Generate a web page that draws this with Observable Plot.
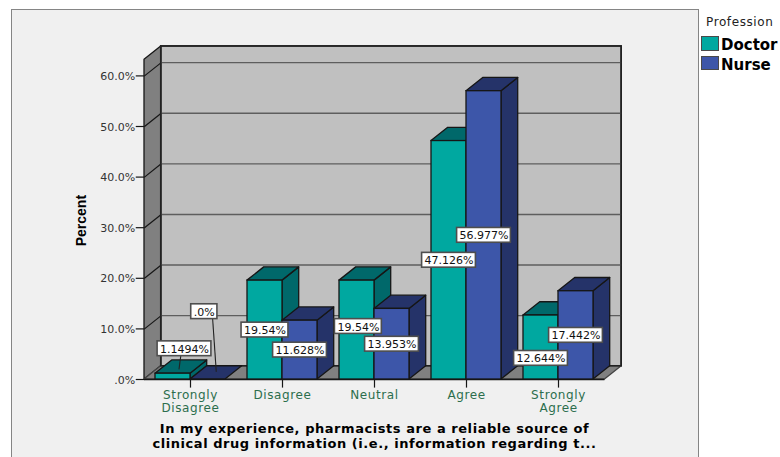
<!DOCTYPE html>
<html>
<head>
<meta charset="utf-8">
<script src="https://cdn.jsdelivr.net/npm/d3@7"></script>
<script src="https://cdn.jsdelivr.net/npm/@observablehq/plot@0.6"></script>
<style>
html,body{margin:0;padding:0;background:#fff;width:780px;height:457px;overflow:hidden}
#panel{position:absolute;left:11px;top:9px;width:686px;height:470px;background:#f0f0f0;border:1.5px solid #858585}
#chart{position:absolute;left:0;top:0}
#legend{position:absolute;left:0;top:0}
.t{position:absolute;white-space:nowrap}
.sw{position:absolute;left:701px;width:16px;height:12.5px;border:1px solid #4a4a4a}
</style>
</head>
<body>
<div id="panel"></div>
<div id="chart"></div>
<div id="legend"></div>
<script>
const categories = ["Strongly\nDisagree", "Disagree", "Neutral", "Agree", "Strongly\nAgree"];
const doctor = [1.1494, 19.54, 19.54, 47.126, 12.644];
const nurse = [0, 11.628, 13.953, 56.977, 17.442];
const doctorText = ["1.1494%", "19.54%", "19.54%", "47.126%", "12.644%"];
const nurseText = [".0%", "11.628%", "13.953%", "56.977%", "17.442%"];
const yTicks = [0, 10, 20, 30, 40, 50, 60];
const yTickText = [".0%", "10.0%", "20.0%", "30.0%", "40.0%", "50.0%", "60.0%"];
const seriesNames = ["Doctor", "Nurse"];
const legendTitle = "Profession";
const axisTitle = "Percent";
const chartTitle = "In my experience, pharmacists are a reliable source of\nclinical drug information (i.e., information regarding t...";

// Label displacement from bar mid-height / bar centre (collision avoidance in the original)
const doctorLabelLift = [5.5, 0, 0.7, 0, -2.15];
const nurseLabelLift = [13.4, 0, 0, 0, 0];
const doctorLabelShift = [0.125, 0, 0.015, 0, 0];
const nurseLabelShift = [-0.04, 0, 0, 0, 0];

// Projection and proportions in data units
const dx = 16.7 / 92, dy = 2.62;
const barW = 35 / 92;
const wallLeft = -0.5, wallRight = 4.505, wallTop = 63.2;
const pxX = 1 / 92, pxY = 1 / 5.06;
const font = "DejaVu Sans";
const wall = "#c0c0c0", sideGrey = "#808080", ink = "#161616";
const colors = {
  Doctor: {front: "#00a8a0", dark: "#00686a"},
  Nurse: {front: "#3d56a9", dark: "#253369"}
};

// wraps a mark so its text is tracked out like the wide original lettering
const tracked = (spacing) => (index, scales, values, dimensions, context, next) => {
  const g = next(index, scales, values, dimensions, context);
  g.setAttribute("letter-spacing", spacing);
  return g;
};

const sideFace = (x0, y0, y1, fill, stroke = ink) =>
  Plot.areaY([{x: x0, a: y0, b: y1}, {x: x0 + dx, a: y0 + dy, b: y1 + dy}],
    {x: "x", y1: "a", y2: "b", fill, stroke, strokeWidth: 1.3});
const flatFace = (x0, x1, y0, fill, stroke = ink) =>
  Plot.areaX([{y: y0, a: x0, b: x1}, {y: y0 + dy, a: x0 + dx, b: x1 + dx}],
    {y: "y", x1: "a", x2: "b", fill, stroke, strokeWidth: 1.3});

const marks = [];
// walls
marks.push(Plot.rect([{}], {x1: wallLeft + dx, x2: wallRight + dx, y1: dy, y2: wallTop + dy, fill: wall, stroke: ink, strokeWidth: 1.5}));
marks.push(sideFace(wallLeft, 0, wallTop, sideGrey));
marks.push(flatFace(wallLeft, wallRight, 0, sideGrey, "#444"));
// gridlines
const gridTicks = yTicks.filter(v => v > 0);
marks.push(Plot.link(gridTicks, {x1: wallLeft + dx, x2: wallRight + dx, y1: v => v + dy, y2: v => v + dy, stroke: "#5e5e5e", strokeWidth: 1.4}));
marks.push(Plot.link(gridTicks, {x1: wallLeft, x2: wallLeft + dx, y1: v => v, y2: v => v + dy, stroke: ink, strokeWidth: 1.2}));
// redraw back wall outline
marks.push(Plot.rect([{}], {x1: wallLeft + dx, x2: wallRight + dx, y1: dy, y2: wallTop + dy, fill: "none", stroke: "#222", strokeWidth: 1.5}));
marks.push(Plot.ruleY([0], {x1: wallLeft, x2: wallRight, stroke: ink, strokeWidth: 1.5}));

// y axis ticks + labels
marks.push(Plot.link(yTicks, {x1: wallLeft - 0.095, x2: wallLeft, y1: v => v, y2: v => v, stroke: ink, strokeWidth: 1.2}));
marks.push(Plot.text(yTicks, {x: wallLeft - 0.1, y: v => v, text: (v, i) => yTickText[i], textAnchor: "end", fontFamily: font, fontSize: 11, fill: "#333", dy: 0.5}));
// x axis ticks
marks.push(Plot.link(categories, {x1: (d, i) => i, x2: (d, i) => i, y1: 0, y2: -1.6, stroke: ink, strokeWidth: 1.2}));

// bars
categories.forEach((c, i) => {
  [[doctor[i], i - barW, colors.Doctor], [nurse[i], i, colors.Nurse]].forEach(([v, x0, col]) => {
    if (v > 0) {
      marks.push(sideFace(x0 + barW, 0, v, col.dark));
    }
    marks.push(flatFace(x0, x0 + barW, v, col.dark));
    if (v > 0) {
      marks.push(Plot.rect([{}], {x1: x0, x2: x0 + barW, y1: 0, y2: v, fill: col.front, stroke: ink, strokeWidth: 1.3}));
    }
  });
});

// labels
const labels = categories.flatMap((c, i) => [
  {x: i - barW / 2 + doctorLabelShift[i], y: doctor[i] / 2 + doctorLabelLift[i], text: doctorText[i]},
  {x: i + barW / 2 + nurseLabelShift[i], y: nurse[i] / 2 + nurseLabelLift[i], text: nurseText[i]}
]);
const halfW = d => (d.text.length * 6.9 + 5.5) / 2 * pxX;
const halfH = 7.4 * pxY;
// leader lines to the two bars whose labels were moved away
marks.push(Plot.link([labels[0], labels[1]], {
  x1: (d, i) => d.x + (i ? 0.085 : -0.03),
  x2: (d, i) => d.x + (i ? 0.13 : -0.06),
  y1: d => d.y,
  y2: (d, i) => (i ? 1.5 : 2),
  stroke: "#222", strokeWidth: 1.1
}));
marks.push(Plot.rect(labels, {x1: d => d.x - halfW(d), x2: d => d.x + halfW(d), y1: d => d.y - halfH, y2: d => d.y + halfH, fill: "#fff", stroke: "#4e4e4e", strokeWidth: 1.6}));
marks.push(Plot.text(labels, {x: "x", y: "y", text: "text", fontFamily: font, fontSize: 11, fill: "#111", dy: 0.5}));

// category labels
marks.push(Plot.text(categories, {x: (d, i) => i, y: 0, text: d => d, lineAnchor: "top", dy: 9.5, lineHeight: 1.12, fontFamily: font, fontSize: 12, fill: "#2c6e4d", render: tracked("0.6")}));
// axis title
marks.push(Plot.text([axisTitle], {x: wallLeft, y: 31.4, text: d => d, rotate: -90, dx: -63, fontFamily: "Liberation Sans", fontWeight: "bold", fontSize: 14, fill: "#000"}));
// chart title
marks.push(Plot.text([chartTitle], {x: 2, y: 0, text: d => d, lineAnchor: "top", dy: 44, lineHeight: 1.08, fontFamily: font, fontWeight: "bold", fontSize: 13, fill: "#000", render: tracked("0.55")}));

const chart = Plot.plot({
  width: 780, height: 457,
  margin: 0,
  style: {background: "transparent"},
  x: {type: "linear", domain: [0, 4], range: [190, 558], axis: null},
  y: {type: "linear", domain: [0, 60], range: [379, 75.4], axis: null},
  marks
});
document.getElementById("chart").append(chart);

// legend
const legend = document.getElementById("legend");
const addText = (s, l, t, css) => {
  const e = document.createElement("div");
  e.className = "t"; e.textContent = s;
  e.style.cssText = `left:${l}px;top:${t}px;font-family:'${font}';` + css;
  legend.append(e);
};
addText(legendTitle, 706, 15, "font-size:12px;letter-spacing:0.6px;color:#222;");
seriesNames.forEach((s, i) => {
  const sw = document.createElement("div");
  sw.className = "sw";
  sw.style.top = (36 + i * 19.5) + "px";
  sw.style.background = colors[s].front;
  legend.append(sw);
  addText(s, 721, 36 + i * 19.5, "font-size:15px;font-weight:bold;color:#000;");
});
</script>
</body>
</html>
